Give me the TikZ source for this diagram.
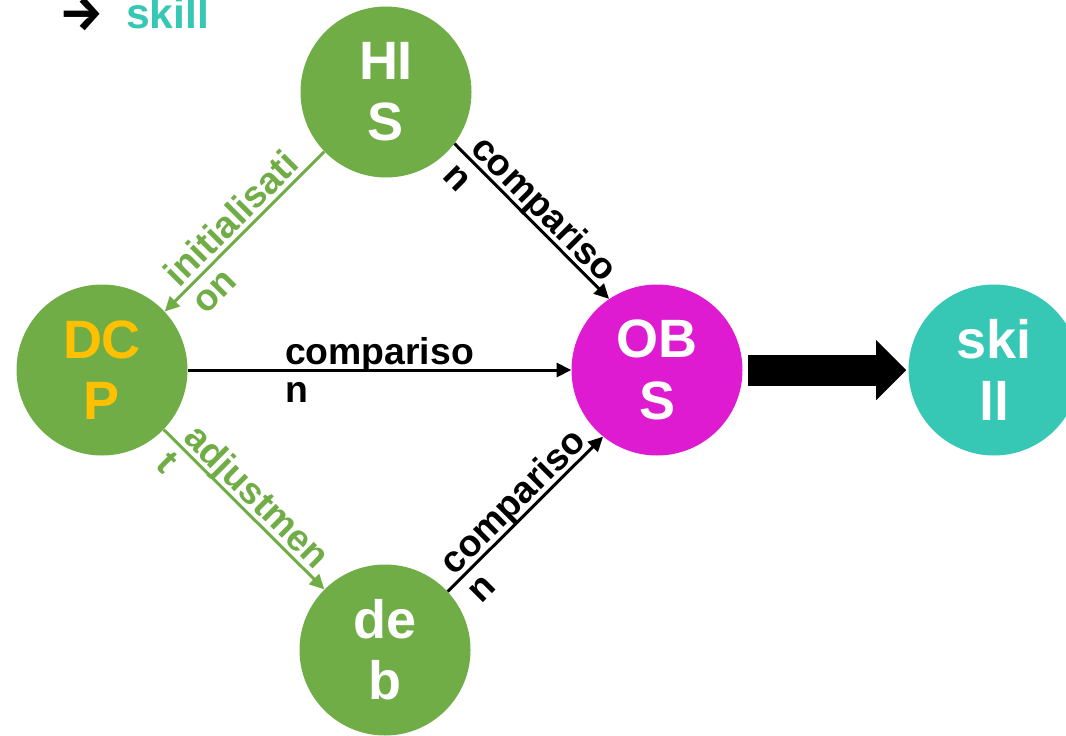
\documentclass[tikz,border=0pt]{standalone}
\usepackage{fontspec}
\setmainfont{Liberation Sans}
\newfontfamily\arrowfont{Fira Sans}
\usetikzlibrary{arrows.meta}
\definecolor{cgreen}{RGB}{112,173,71}
\definecolor{cyellow}{RGB}{255,192,0}
\definecolor{cmag}{RGB}{222,27,208}
\definecolor{cteal}{RGB}{54,199,181}
\begin{document}
\begin{tikzpicture}[x=0.75pt,y=-0.75pt,
  circ/.style={circle, minimum size=128.25pt, inner sep=0pt, draw=none,
    font=\fontsize{40.5}{46}\selectfont\bfseries, align=center, text=white},
  lbl/.style={font=\fontsize{28}{29}\selectfont\bfseries, align=left, sloped, midway, inner sep=0pt},
  conn/.style={line width=2.25pt, -{Triangle[length=11pt,width=10.5pt]}},
  legend/.style={inner sep=0pt, font=\fontsize{32}{36}\selectfont\bfseries}
]
\useasboundingbox (0,0) rectangle (1066,735);
\clip (0,0) rectangle (1066,735);
\node[legend, font=\fontsize{37}{40}\selectfont\bfseries\arrowfont] (legarrow) at (81.5,14) {→};
\node[legend, anchor=base west, text=cteal] (legskill) at (126,29) {skill};

\node[circ, fill=cgreen] (HIS) at (386,92) {HI\\S};
\node[circ, fill=cgreen, text=cyellow] (DCP) at (102,370) {DC\\P};
\node[circ, fill=cmag] (OBS) at (657,370) {OB\\S};
\node[circ, fill=cteal] (skill) at (994,370) {ski\\ll};
\node[circ, fill=cgreen] (deb) at (385,650) {de\\b};

\draw[conn, cgreen] (HIS.224) -- node[lbl, text=cgreen]{initialisati\\on} (DCP.43);
\draw[conn] (HIS.-37) -- node[lbl]{compariso\\n} (OBS.124);
\draw[conn] (DCP.east) -- node[lbl]{compariso\\n} (OBS.west);
\draw[conn, cgreen] (DCP.-44) -- node[lbl, text=cgreen]{adjustmen\\t} (deb.135);
\draw[conn] (deb.43) -- node[lbl]{compariso\\n} (OBS.231);
\draw[line width=23.25pt, -{Triangle[length=22.5pt,width=45pt,line width=0pt]}] ([xshift=4pt]OBS.east) -- ([xshift=-1.5pt]skill.west);
\end{tikzpicture}
\end{document}
